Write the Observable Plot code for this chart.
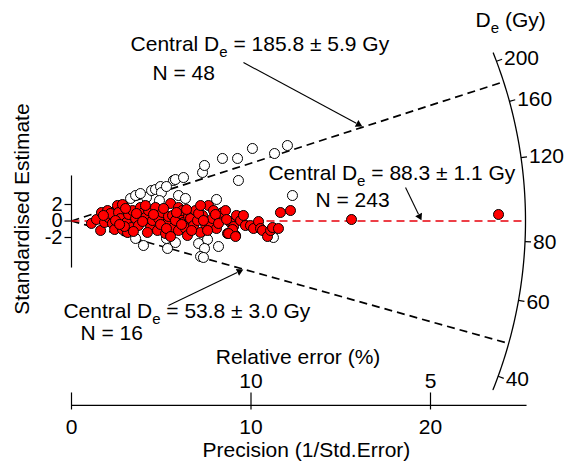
<!DOCTYPE html>
<html><head><meta charset="utf-8">
<script src="https://cdn.jsdelivr.net/npm/d3@7"></script>
<script src="https://cdn.jsdelivr.net/npm/@observablehq/plot@0.6"></script>
<style>html,body{margin:0;padding:0;background:#fff;}</style>
</head><body><div id="chart"></div>
<script>
// ---------- data ----------
// central component (red, filled): precision (1/se) and standardised estimate z
const redPrecision = [
 1.11,1.39,1.62,1.67,1.84,2.01,2.06,2.17,2.28,2.40,
 2.56,2.62,2.73,2.84,2.84,3.06,3.12,3.18,3.34,3.40,
 3.57,3.73,3.84,4.01,4.12,4.29,4.40,4.51,4.68,4.79,
 4.85,5.07,5.24,5.35,5.40,5.52,5.63,5.68,5.79,5.96,
 5.96,6.07,6.18,6.24,6.35,6.46,6.52,6.63,6.80,6.91,
 7.02,7.19,7.30,7.47,7.63,7.74,7.86,7.91,8.08,8.30,
 8.41,8.58,8.69,8.86,9.03,9.14,9.19,9.42,9.58,9.69,
 9.97,10.14,10.42,10.53,10.64,10.92,11.09,11.20,11.53,11.64,
 12.20,15.60,23.79,1.78,2.45,2.95,3.45,3.62,3.96,4.23,
 4.57,4.96,5.13,5.29,5.52,5.85,6.13,6.41,6.69,7.08,
 7.35,7.58,8.02,8.19,8.64,8.97,8.75,9.14,2.68,4.12,
 7.19,3.01];
const redZ = [
 -0.30,0.18,-1.15,1.03,-0.18,1.27,0.42,0.91,-0.30,-1.03,
 1.88,1.03,0.30,2.00,-1.03,-0.18,-1.39,0.79,-0.79,1.27,
 0.30,-0.55,1.64,1.03,0.42,1.27,-0.79,0.06,1.64,-1.15,
 0.30,1.03,-1.52,-0.18,0.55,2.12,0.67,-0.79,0.06,1.64,
 -1.15,0.91,1.27,-0.18,-0.91,-1.76,0.55,0.30,-0.55,1.27,
 0.06,-1.39,0.67,-0.42,1.88,-0.55,0.30,1.27,-0.91,0.30,
 1.03,1.27,-1.52,-0.18,-0.67,-1.76,0.67,0.06,0.67,-0.55,
 -0.55,-0.91,-0.06,-0.91,-1.15,-1.88,-1.15,-0.79,-0.91,1.03,
 1.27,0.18,0.79,0.67,0.06,-0.67,-1.27,0.91,-0.06,-1.39,
 0.79,-0.42,1.52,-0.91,-1.88,1.03,-0.42,1.40,-1.15,0.91,
 0.06,-1.15,0.79,-0.30,0.18,-1.03,-1.52,-1.88,-0.42,1.88,
 1.88,1.52];
// other components (open circles)
const openPrecision = [3.29,3.57,4.18,4.46,4.68,4.96,5.01,4.90,5.68,5.79,6.24,5.96,6.35,7.30,7.41,8.08,8.41,9.25,9.30,10.08,11.31,12.03,12.31,3.84,5.29,
 3.57,4.01,5.35,5.79,5.29,7.08,7.58,7.41,7.19,7.35,8.19,11.25];
const openZ = [2.73,3.09,2.85,3.70,3.82,4.18,3.45,2.48,4.91,5.03,5.27,3.09,2.73,5.88,6.73,2.61,7.58,7.58,4.91,8.79,8.18,9.15,3.09,3.33,4.18,
 -2.12,-2.97,-3.33,-2.61,-2.12,-2.73,-2.24,-3.33,-4.30,-4.42,-3.09,-2.00];

const componentLabels = ["Central D_e = 185.8 ± 5.9 Gy", "Central D_e = 88.3 ± 1.1 Gy", "Central D_e = 53.8 ± 3.0 Gy"];
const componentN = ["N = 48", "N = 243", "N = 16"];
const centralDe = 88.3;               // value at z = 0
const componentLineDe = [178, 88.3, 48]; // De of the drawn dashed lines (as in picture)
const zTicks = [-2, 0, 2];
const precisionTicks = [0, 10, 20];
const relErrorTicks = [10, 5];
const deTicks = [40, 60, 80, 120, 160, 200];

// ---------- layout ----------
const W = 566, H = 461;
const X0 = 71, PX_X = 17.95, Y0 = 220.5, PX_Z = 8.25;
const R = 454; // arc radius (px)
const arcRange = [37, 210];
const axisZ = -22.36, axisEnd = 25.35;
const font = "'Liberation Sans', Arial, Helvetica, sans-serif";

function ray(De, r) {
  const s = Math.log(De / centralDe);
  const th = Math.atan(s * PX_Z / PX_X);
  return {x: r * Math.cos(th) / PX_X, y: r * Math.sin(th) / PX_Z};
}
const lo = Math.log(arcRange[0]), hi = Math.log(arcRange[1]);
const arcPts = d3.range(0, 81).map(i => ray(Math.exp(lo + (hi - lo) * i / 80), R));

const red = redPrecision.map((p, i) => ({p, z: redZ[i]}));
const open = openPrecision.map((p, i) => ({p, z: openZ[i]}));

const annText = [
  {t: componentLabels[0], x: 3.29, y: 21.39}, {t: componentN[0], x: 4.51, y: 17.88},
  {t: componentLabels[1], x: 10.97, y: 5.76}, {t: componentN[1], x: 13.59, y: 2.48},
  {t: componentLabels[2], x: -0.45, y: -10.97}, {t: componentN[2], x: 0.50, y: -13.64}
];
const annArrows = [
  {x1: 9.58, y1: 19.21, x2: 16.21, y2: 11.45},
  {x1: 18.61, y1: 4.06, x2: 19.50, y2: 0.06},
  {x1: 5.40, y1: -10.24, x2: 9.58, y2: -5.88}
];
// filled arrow heads: triangle centroid placed just behind the tip
const HEAD_OFF = 4.5;
const heads = annArrows.map(a => {
  const dx = (a.x2 - a.x1) * PX_X, dy = -(a.y2 - a.y1) * PX_Z;
  const L = Math.hypot(dx, dy), ux = dx / L, uy = dy / L;
  return {x: a.x2 - HEAD_OFF * ux / PX_X, y: a.y2 + HEAD_OFF * uy / PX_Z,
          rot: Math.atan2(ux, -uy) * 180 / Math.PI,
          sx: a.x2 - 7 * ux / PX_X, sy: a.y2 + 7 * uy / PX_Z, x1: a.x1, y1: a.y1};
});

const zero = () => 0;
const plot = Plot.plot({
  width: W, height: H, margin: 0,
  x: {domain: [-X0 / PX_X, (W - X0) / PX_X], axis: null},
  y: {domain: [(Y0 - H) / PX_Z, Y0 / PX_Z], axis: null},
  style: {background: "white", fontFamily: font, fontSize: "21px", color: "black"},
  marks: [
    // y axis
    Plot.link([0], {x1: zero, x2: zero, y1: () => -5.64, y2: () => 5.52, stroke: "black", strokeWidth: 1.2}),
    Plot.link(zTicks, {x1: zero, x2: () => -7 / PX_X, y1: d => d, y2: d => d, stroke: "black", strokeWidth: 1.2}),
    Plot.text(zTicks, {x: () => -9 / PX_X, y: d => d, text: d => (d < 0 ? "-" + Math.abs(d) : String(d)), textAnchor: "end", fontSize: 20}),
    Plot.text(["Standardised Estimate"], {x: () => -2.73, y: () => 1.45, text: d => d, rotate: -90, fontSize: 21}),
    // precision axis
    Plot.link([0], {x1: zero, x2: () => axisEnd, y1: () => axisZ, y2: () => axisZ, stroke: "black", strokeWidth: 1.2}),
    Plot.link(precisionTicks, {x1: d => d, x2: d => d, y1: () => axisZ + 13 / PX_Z, y2: () => axisZ - 4 / PX_Z, stroke: "black", strokeWidth: 1.2}),
    Plot.text(precisionTicks, {x: d => d, y: () => axisZ - 22 / PX_Z, text: d => String(d), fontSize: 21}),
    Plot.text(relErrorTicks, {x: d => 100 / d, y: () => axisZ + 24 / PX_Z, text: d => String(d), fontSize: 21}),
    Plot.text(["Relative error (%)"], {x: () => 12.62, y: () => -16.5, text: d => d, fontSize: 21}),
    Plot.text(["Precision (1/Std.Error)"], {x: () => 13.09, y: () => -27.85, text: d => d, fontSize: 21}),
    // component lines
    Plot.link([componentLineDe[0], componentLineDe[2]], {x1: zero, y1: zero, x2: d => ray(d, R).x, y2: d => ray(d, R).y, stroke: "black", strokeWidth: 1.7, strokeDasharray: "8,5"}),
    // arc
    Plot.line(arcPts, {x: "x", y: "y", stroke: "black", strokeWidth: 1.3}),
    Plot.link(deTicks, {x1: d => ray(d, R).x, y1: d => ray(d, R).y, x2: d => ray(d, R + 6).x, y2: d => ray(d, R + 6).y, stroke: "black", strokeWidth: 1.2}),
    Plot.text(deTicks, {x: d => ray(d, R + 8).x, y: d => ray(d, R + 8).y, text: d => String(d), textAnchor: "start", fontSize: 21}),
    Plot.text(["D_e (Gy)"], {x: () => 22.51, y: () => 24.3, text: d => d, textAnchor: "start", fontSize: 21}),
    // points
    Plot.dot(open, {x: "p", y: "z", r: 5, fill: "white", stroke: "black", strokeWidth: 1}),
    Plot.link([componentLineDe[1]], {x1: zero, y1: zero, x2: d => ray(d, R).x, y2: d => ray(d, R).y, stroke: "#e8000b", strokeWidth: 1.4, strokeDasharray: "8,5"}),
    Plot.dot(red, {x: "p", y: "z", r: 5, fill: "#ff0000", stroke: "black", strokeWidth: 1}),
    // annotations
    Plot.text(annText, {x: "x", y: "y", text: "t", textAnchor: "start", fontSize: 21}),
    Plot.link(heads, {x1: "x1", y1: "y1", x2: "sx", y2: "sy", stroke: "black", strokeWidth: 1.1}),
    Plot.dot(heads, {x: "x", y: "y", symbol: "triangle", r: 2.8, fill: "black", stroke: "none", rotate: "rot"})
  ]
});

// subscript "e" in D_e
const ns = "http://www.w3.org/2000/svg";
plot.querySelectorAll("text").forEach(t => {
  const s = t.textContent;
  if (!s.includes("D_e") || t.children.length) return;
  const [a, b] = s.split("D_e");
  t.textContent = "";
  const t1 = document.createElementNS(ns, "tspan"); t1.textContent = a + "D";
  const t2 = document.createElementNS(ns, "tspan"); t2.textContent = "e";
  t2.setAttribute("font-size", "15"); t2.setAttribute("dy", "6");
  const t3 = document.createElementNS(ns, "tspan"); t3.textContent = b;
  t3.setAttribute("dy", "-6");
  t.append(t1, t2, t3);
});
document.getElementById("chart").append(plot);
</script>
</body></html>
